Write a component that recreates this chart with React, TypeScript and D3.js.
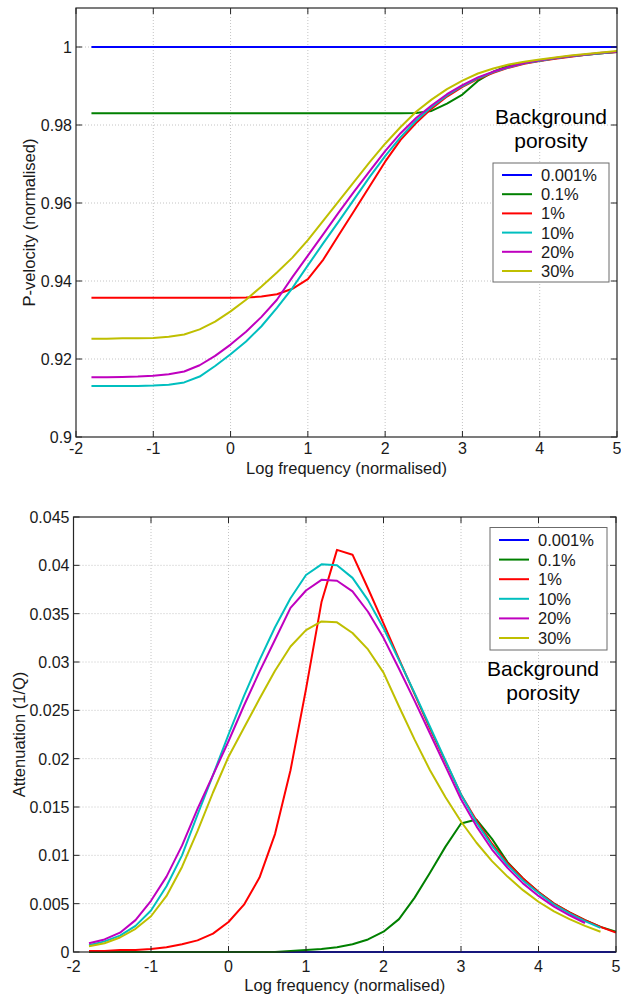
import React, { useRef, useEffect } from 'react';
import * as d3 from 'd3';

// Shared frequency samples (log, normalised)
const X_GRID = [
  -1.8, -1.6, -1.4, -1.2, -1.0, -0.8, -0.6, -0.4, -0.2, 0.0,
  0.2, 0.4, 0.6, 0.8, 1.0, 1.2, 1.4, 1.6, 1.8, 2.0,
  2.2, 2.4, 2.6, 2.8, 3.0, 3.2, 3.4, 3.6, 3.8, 4.0,
  4.2, 4.4, 4.6, 4.8, 5.0,
];

const SERIES_LABELS = ['0.001%', '0.1%', '1%', '10%', '20%', '30%'];
const SERIES_COLORS = ['#0000ff', '#008000', '#ff0000', '#00bfbf', '#bf00bf', '#bfbf00'];

const X_TICKS = [-2, -1, 0, 1, 2, 3, 4, 5];
const VEL_TICKS = [0.9, 0.92, 0.94, 0.96, 0.98, 1];
const ATT_TICKS = [0, 0.005, 0.01, 0.015, 0.02, 0.025, 0.03, 0.035, 0.04, 0.045];

// P-velocity (normalised)
const VEL_0001 = [
  1, 1, 1, 1, 1, 1, 1, 1, 1, 1, 1, 1, 1, 1, 1, 1, 1, 1,
  1, 1, 1, 1, 1, 1, 1, 1, 1, 1, 1, 1, 1, 1, 1, 1, 1,
];
const VEL_01 = [
  0.983, 0.983, 0.983, 0.983, 0.983, 0.983, 0.983, 0.983, 0.983, 0.983,
  0.983, 0.983, 0.983, 0.983, 0.983, 0.983, 0.983, 0.983, 0.983, 0.983,
  0.983, 0.9831, 0.9836, 0.9855, 0.9878, 0.9913, 0.9937, 0.9953, 0.996, 0.9965,
  0.9971, 0.9976, 0.998, 0.9984, 0.9987,
];
const VEL_1 = [
  0.9357, 0.9357, 0.9357, 0.9357, 0.9357, 0.9357, 0.9357, 0.9357, 0.9357, 0.9357,
  0.9358, 0.936, 0.9366, 0.938, 0.9405, 0.9455, 0.9518, 0.958, 0.9643, 0.9706,
  0.9762, 0.9805, 0.9842, 0.9873, 0.9898, 0.9918, 0.9934, 0.9947, 0.9957, 0.9964,
  0.997, 0.9975, 0.998, 0.9984, 0.9987,
];
const VEL_10 = [
  0.9131, 0.9131, 0.9131, 0.9131, 0.9132, 0.9134, 0.914, 0.9155, 0.9182, 0.9212,
  0.9245, 0.9284, 0.9331, 0.9382, 0.944, 0.9497, 0.9553, 0.961, 0.9667, 0.972,
  0.9769, 0.9811, 0.9846, 0.9876, 0.99, 0.992, 0.9936, 0.9948, 0.9958, 0.9965,
  0.9971, 0.9976, 0.998, 0.9984, 0.9988,
];
const VEL_20 = [
  0.9153, 0.9153, 0.9154, 0.9155, 0.9157, 0.9161, 0.9168, 0.9184, 0.9208, 0.9237,
  0.927, 0.9308, 0.9352, 0.941, 0.9465, 0.952, 0.9576, 0.963, 0.9682, 0.9733,
  0.9779, 0.9818, 0.985, 0.9879, 0.9902, 0.9922, 0.9937, 0.9949, 0.9959, 0.9966,
  0.9972, 0.9977, 0.9981, 0.9985, 0.9988,
];
const VEL_30 = [
  0.9252, 0.9252, 0.9253, 0.9253, 0.9254, 0.9257, 0.9263, 0.9276, 0.9296, 0.9322,
  0.9352, 0.9386, 0.9422, 0.946, 0.9505, 0.9555, 0.9605, 0.9655, 0.9705, 0.9752,
  0.9795, 0.9834, 0.9865, 0.9892, 0.9914, 0.9932, 0.9945, 0.9955, 0.9962, 0.9968,
  0.9973, 0.9978, 0.9982, 0.9986, 0.999,
];

// Attenuation (1/Q)
const ATT_0001 = [
  0, 0, 0, 0, 0, 0, 0, 0, 0, 0, 0, 0, 0, 0, 0, 0, 0, 0,
  0, 0, 0, 0, 0, 0, 0, 0, 0, 0, 0, 0, 0, 0, 0, 0, 0,
];
const ATT_01 = [
  0, 0, 0, 0, 0, 0, 0, 0, 0, 0,
  0, 0, 0, 0.0001, 0.0002, 0.0003, 0.0005, 0.0008, 0.0013, 0.0021,
  0.0034, 0.0056, 0.0082, 0.0109, 0.0133, 0.0137, 0.0117, 0.0093, 0.0076, 0.0062,
  0.005, 0.0041, 0.0033, 0.0026, 0.0021,
];
const ATT_1 = [
  0.0001, 0.0001, 0.0002, 0.0002, 0.0003, 0.0005, 0.0008, 0.0012, 0.0019, 0.0031,
  0.0049, 0.0077, 0.0122, 0.0188, 0.0272, 0.0362, 0.0416, 0.0411, 0.0376, 0.034,
  0.0303, 0.0267, 0.0231, 0.0197, 0.0163, 0.0136, 0.0112, 0.0092, 0.0076, 0.0062,
  0.005, 0.0041, 0.0033, 0.0026, 0.002,
];
const ATT_10 = [
  0.0007, 0.0011, 0.0017, 0.0027, 0.0043, 0.0068, 0.01, 0.0142, 0.0183, 0.0225,
  0.0265, 0.0302, 0.0336, 0.0366, 0.039, 0.0401, 0.04, 0.0387, 0.0364, 0.0335,
  0.0302, 0.0268, 0.0233, 0.0198, 0.0163, 0.0134, 0.011, 0.009, 0.0074, 0.0061,
  0.0049, 0.004, 0.0032, 0.0025,
];
const ATT_20 = [
  0.0009, 0.0013, 0.002, 0.0033, 0.0053, 0.0078, 0.011, 0.0148, 0.0183, 0.0218,
  0.0255, 0.029, 0.0323, 0.0356, 0.0374, 0.0385, 0.0384, 0.0373, 0.0352, 0.0325,
  0.0293, 0.026, 0.0226, 0.0192, 0.0158, 0.013, 0.0106, 0.0087, 0.0071, 0.0058,
  0.0047, 0.0038, 0.003,
];
const ATT_30 = [
  0.0006, 0.0009, 0.0015, 0.0024, 0.0037, 0.0058, 0.0088, 0.0125, 0.0165, 0.0202,
  0.0232, 0.0262, 0.0291, 0.0316, 0.0333, 0.0342, 0.0341, 0.033, 0.0313, 0.0289,
  0.0254, 0.022, 0.0188, 0.016, 0.0135, 0.0113, 0.0094, 0.0078, 0.0064, 0.0052,
  0.0042, 0.0034, 0.0027, 0.0021,
];

const VEL_SERIES = [VEL_0001, VEL_01, VEL_1, VEL_10, VEL_20, VEL_30];
const ATT_SERIES = [ATT_0001, ATT_01, ATT_1, ATT_10, ATT_20, ATT_30];

const FONT = '"Liberation Sans", Arial, Helvetica, sans-serif';
const TEXT = '#1a1a1a';

const drawPanel = (svg, opts) => {
  const { box, yDomain, yTicks, series, yLabel, yLabelX, xLabelY, tickLabelY, legend, note } = opts;

  const x = d3.scaleLinear().domain([-2, 5]).range([box.left, box.right]);
  const y = d3.scaleLinear().domain(yDomain).range([box.bottom, box.top]);

  const g = svg.append('g');

  // dotted grid
  g.selectAll('.vgrid')
    .data(X_TICKS.slice(1, -1))
    .enter()
    .append('line')
    .attr('x1', d => x(d)).attr('x2', d => x(d))
    .attr('y1', box.top).attr('y2', box.bottom)
    .attr('stroke', '#c4c4c4')
    .attr('stroke-dasharray', '1,2');

  g.selectAll('.hgrid')
    .data(yTicks.filter(d => y(d) < box.bottom - 1 && y(d) > box.top + 1))
    .enter()
    .append('line')
    .attr('x1', box.left).attr('x2', box.right)
    .attr('y1', d => y(d)).attr('y2', d => y(d))
    .attr('stroke', '#c4c4c4')
    .attr('stroke-dasharray', '1,2');

  // curves
  const line = d3.line()
    .x(d => x(d[0]))
    .y(d => y(d[1]));

  series.forEach((vals, i) => {
    const pts = vals.map((v, k) => [X_GRID[k], v]);
    g.append('path')
      .datum(pts)
      .attr('fill', 'none')
      .attr('stroke', SERIES_COLORS[i])
      .attr('stroke-width', 2)
      .attr('stroke-linejoin', 'round')
      .attr('d', line);
  });

  // frame + inward ticks
  g.append('rect')
    .attr('x', box.left).attr('y', box.top)
    .attr('width', box.right - box.left)
    .attr('height', box.bottom - box.top)
    .attr('fill', 'none')
    .attr('stroke', '#262626')
    .attr('stroke-width', 1.2);

  const tick = 6;
  X_TICKS.forEach(t => {
    g.append('line')
      .attr('x1', x(t)).attr('x2', x(t))
      .attr('y1', box.bottom).attr('y2', box.bottom - tick)
      .attr('stroke', '#262626');
    g.append('line')
      .attr('x1', x(t)).attr('x2', x(t))
      .attr('y1', box.top).attr('y2', box.top + tick)
      .attr('stroke', '#262626');
    g.append('text')
      .attr('x', x(t))
      .attr('y', tickLabelY)
      .attr('text-anchor', 'middle')
      .attr('font-size', 16)
      .attr('font-family', FONT)
      .attr('fill', TEXT)
      .text(String(t));
  });

  yTicks.forEach(t => {
    g.append('line')
      .attr('x1', box.left).attr('x2', box.left + tick)
      .attr('y1', y(t)).attr('y2', y(t))
      .attr('stroke', '#262626');
    g.append('line')
      .attr('x1', box.right).attr('x2', box.right - tick)
      .attr('y1', y(t)).attr('y2', y(t))
      .attr('stroke', '#262626');
    g.append('text')
      .attr('x', box.left - 4)
      .attr('y', y(t) + 6)
      .attr('text-anchor', 'end')
      .attr('font-size', 16)
      .attr('font-family', FONT)
      .attr('fill', TEXT)
      .text(String(t));
  });

  // axis labels
  g.append('text')
    .attr('x', (box.left + box.right) / 2)
    .attr('y', xLabelY)
    .attr('text-anchor', 'middle')
    .attr('font-size', 16.5)
    .attr('font-family', FONT)
    .attr('fill', TEXT)
    .text('Log frequency (normalised)');

  const cy = (box.top + box.bottom) / 2;
  g.append('text')
    .attr('transform', `translate(${yLabelX},${cy}) rotate(-90)`)
    .attr('text-anchor', 'middle')
    .attr('font-size', 16.5)
    .attr('font-family', FONT)
    .attr('fill', TEXT)
    .text(yLabel);

  // legend
  const lg = g.append('g');
  lg.append('rect')
    .attr('x', legend.x).attr('y', legend.y)
    .attr('width', legend.w).attr('height', legend.h)
    .attr('fill', '#fff')
    .attr('stroke', '#6b6b6b')
    .attr('stroke-width', 1);

  SERIES_LABELS.forEach((lab, i) => {
    const ry = legend.first + i * legend.step;
    lg.append('line')
      .attr('x1', legend.x + 9).attr('x2', legend.x + 39)
      .attr('y1', ry).attr('y2', ry)
      .attr('stroke', SERIES_COLORS[i])
      .attr('stroke-width', 2);
    lg.append('text')
      .attr('x', legend.x + 48)
      .attr('y', ry + 6)
      .attr('font-size', 16.5)
      .attr('font-family', FONT)
      .attr('fill', TEXT)
      .text(lab);
  });

  // "Background porosity" note
  ['Background', 'porosity'].forEach((w, i) => {
    g.append('text')
      .attr('x', note.x)
      .attr('y', note.y + i * 24)
      .attr('text-anchor', 'middle')
      .attr('font-size', 21)
      .attr('font-family', FONT)
      .attr('fill', '#000')
      .text(w);
  });
};

const App = () => {
  const ref = useRef(null);

  useEffect(() => {
    const svg = d3.select(ref.current);
    svg.selectAll('*').remove();

    drawPanel(svg, {
      box: { left: 76, right: 617, top: 8, bottom: 437 },
      yDomain: [0.9, 1.01],
      yTicks: VEL_TICKS,
      series: VEL_SERIES,
      yLabel: 'P-velocity (normalised)',
      yLabelX: 35,
      xLabelY: 474,
      tickLabelY: 454,
      legend: { x: 493, y: 163, w: 116, h: 119, first: 175, step: 19.2 },
      note: { x: 551, y: 124 },
    });

    drawPanel(svg, {
      box: { left: 73.5, right: 616, top: 517, bottom: 952 },
      yDomain: [0, 0.045],
      yTicks: ATT_TICKS,
      series: ATT_SERIES,
      yLabel: 'Attenuation (1/Q)',
      yLabelX: 25,
      xLabelY: 991,
      tickLabelY: 972,
      legend: { x: 490, y: 527.5, w: 117, h: 122.5, first: 540, step: 19.6 },
      note: { x: 543, y: 676 },
    });
  }, []);

  return (
    <svg
      ref={ref}
      width={621}
      height={999}
      style={{ position: 'absolute', left: 0, top: 0, background: '#fff' }}
    />
  );
};

export default App;
